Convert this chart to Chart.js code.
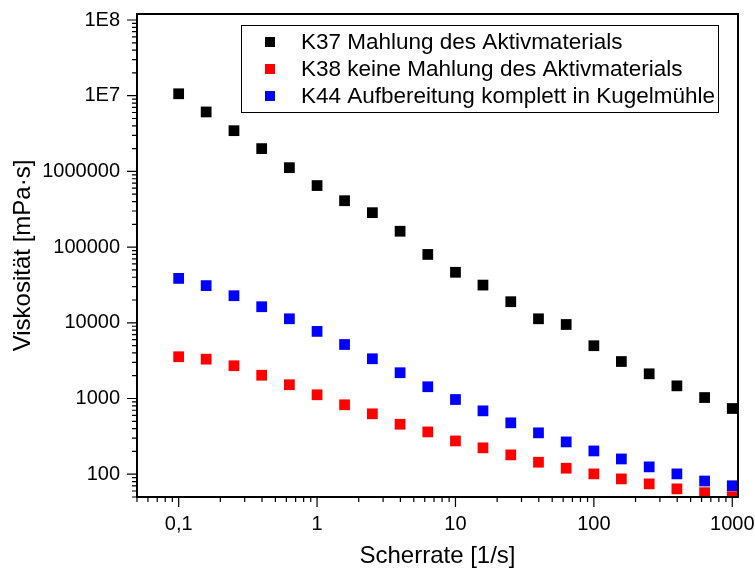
<!DOCTYPE html>
<html>
<head>
<meta charset="utf-8">
<title>Viskosität vs. Scherrate</title>
<script src="https://cdn.jsdelivr.net/npm/chart.js@4/dist/chart.umd.min.js"></script>
<style>
  html, body { margin: 0; padding: 0; background: #fff; }
  #wrap { width: 755px; height: 572px; position: relative; }
</style>
</head>
<body>
<div id="wrap"><canvas id="viscChart"></canvas></div>
<script>
// Scherrate [1/s], 5 Messpunkte pro Dekade
var shearRate = [0.1, 0.158, 0.251, 0.398, 0.631, 1, 1.58, 2.51, 3.98, 6.31, 10,
  15.8, 25.1, 39.8, 63.1, 100, 158, 251, 398, 631, 1000];

// Viskosität [mPa·s]
var k37 = [1.06e7, 6.1e6, 3.45e6, 2.0e6, 1.12e6, 6.5e5, 4.1e5, 2.85e5, 1.62e5, 8.0e4, 4.65e4,
  3.15e4, 1.9e4, 1.13e4, 9.5e3, 4.98e3, 3.08e3, 2.12e3, 1.47e3, 1.03e3, 738];
var k38 = [3560, 3310, 2710, 2030, 1520, 1120, 826, 628, 457, 362, 275,
  223, 180, 144, 120, 101, 86.7, 74.5, 64, 57, 50.5];
var k44 = [38600, 31000, 22800, 16300, 11300, 7700, 5170, 3350, 2190, 1430, 970,
  687, 477, 352, 267, 203, 159, 125, 101, 81.3, 70.4];

var seriesLabels = [
  'K37 Mahlung des Aktivmaterials',
  'K38 keine Mahlung des Aktivmaterials',
  'K44 Aufbereitung komplett in Kugelmühle'
];
var seriesColors = ['#000000', '#ff0000', '#0000ff'];

var xRange = [0.05, 1100];
var yRange = [50, 1.2e8];

var FONT = '"Liberation Sans", Arial, sans-serif';

function isPow10(v) {
  var l = Math.log10(v);
  return Math.abs(l - Math.round(l)) < 1e-9;
}

// 1..9 x 10^n innerhalb des Achsenbereichs
function logTicks(min, max) {
  var out = [];
  for (var e = Math.floor(Math.log10(min)); e <= Math.ceil(Math.log10(max)); e++) {
    for (var m = 1; m <= 9; m++) {
      var v = parseFloat((m * Math.pow(10, e)).toPrecision(6));
      if (v >= min * (1 - 1e-9) && v <= max * (1 + 1e-9)) {
        out.push({ value: v, major: m === 1 });
      }
    }
  }
  return out;
}

function points(ys) {
  return shearRate.map(function (x, i) { return { x: x, y: ys[i] }; });
}

// Rahmen, Tickstriche (lang/kurz) und Legende
var framePlugin = {
  id: 'frame',
  afterDraw: function (chart) {
    var ctx = chart.ctx;
    var a = chart.chartArea;
    var xs = chart.scales.x, ys = chart.scales.y;
    ctx.save();
    ctx.strokeStyle = '#000';
    ctx.lineWidth = 1.2;
    ctx.beginPath();
    xs.ticks.forEach(function (t) {
      var px = xs.getPixelForValue(t.value);
      var len = t.major ? 10 : 5;
      ctx.moveTo(px, a.bottom);
      ctx.lineTo(px, a.bottom + len);
    });
    ys.ticks.forEach(function (t) {
      var py = ys.getPixelForValue(t.value);
      var len = t.major ? 10 : 5;
      ctx.moveTo(a.left, py);
      ctx.lineTo(a.left - len, py);
    });
    ctx.stroke();

    ctx.lineWidth = 2;
    ctx.strokeRect(a.left, a.top, a.right - a.left, a.bottom - a.top);

    // Legende
    var bx = 241.5, by = 25.5, bw = 477, bh = 87;
    ctx.fillStyle = '#fff';
    ctx.fillRect(bx, by, bw, bh);
    ctx.lineWidth = 1;
    ctx.strokeStyle = '#000';
    ctx.strokeRect(bx, by, bw, bh);
    ctx.font = '22.5px ' + FONT;
    ctx.textBaseline = 'alphabetic';
    ctx.textAlign = 'left';
    chart.data.datasets.forEach(function (ds, i) {
      var cy = 42 + i * 27;
      ctx.fillStyle = ds.backgroundColor;
      ctx.fillRect(265, cy - 5, 10, 10);
      ctx.fillStyle = '#000';
      ctx.fillText(ds.label, 301, cy + 7);
    });
    ctx.restore();
  }
};

var datasets = [k37, k38, k44].map(function (ys, i) {
  return {
    label: seriesLabels[i],
    data: points(ys),
    backgroundColor: seriesColors[i],
    borderColor: seriesColors[i],
    borderWidth: 0,
    pointStyle: 'rect',
    pointRadius: 7.6,
    pointHoverRadius: 7.6,
    clip: 0
  };
});

new Chart(document.getElementById('viscChart').getContext('2d'), {
  type: 'scatter',
  data: { datasets: datasets },
  options: {
    responsive: true,
    maintainAspectRatio: false,
    animation: false,
    events: [],
    layout: { padding: { top: 14, right: 17, left: 0, bottom: 0 } },
    plugins: {
      legend: { display: false },
      tooltip: { enabled: false }
    },
    scales: {
      x: {
        type: 'logarithmic',
        min: xRange[0],
        max: xRange[1],
        afterBuildTicks: function (s) { s.ticks = logTicks(s.min, s.max); },
        afterFit: function (s) {
          s.height = 75;
          s.paddingLeft = 0;
          s.paddingRight = 0;
        },
        grid: { display: false, drawTicks: false },
        border: { display: false },
        ticks: {
          autoSkip: false,
          maxRotation: 0,
          padding: 15,
          color: '#000',
          font: { family: FONT, size: 20 },
          callback: function (v) {
            return isPow10(v) ? String(v).replace('.', ',') : '';
          }
        },
        title: {
          display: true,
          text: 'Scherrate [1/s]',
          color: '#000',
          font: { family: FONT, size: 24 },
          padding: { top: 0, bottom: 1 }
        }
      },
      y: {
        type: 'logarithmic',
        min: yRange[0],
        max: yRange[1],
        afterBuildTicks: function (s) { s.ticks = logTicks(s.min, s.max); },
        afterFit: function (s) {
          s.width = 137;
          s.paddingTop = 0;
          s.paddingBottom = 0;
        },
        grid: { display: false, drawTicks: false },
        border: { display: false },
        ticks: {
          autoSkip: false,
          padding: 17,
          color: '#000',
          font: { family: FONT, size: 20 },
          callback: function (v) {
            if (!isPow10(v)) return '';
            var e = Math.round(Math.log10(v));
            return e >= 7 ? '1E' + e : String(Math.round(v));
          }
        },
        title: {
          display: true,
          text: 'Viskosität [mPa·s]',
          color: '#000',
          font: { family: FONT, size: 24 },
          padding: { top: 9, bottom: 0 }
        }
      }
    }
  },
  plugins: [framePlugin]
});
</script>
</body>
</html>
